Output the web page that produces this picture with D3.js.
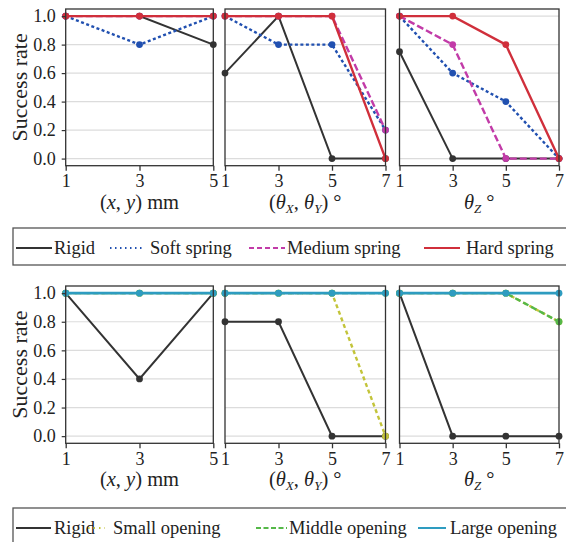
<!DOCTYPE html>
<html>
<head>
<meta charset="utf-8">
<script src="https://cdn.jsdelivr.net/npm/d3@7"></script>
<style>
  body { margin: 0; background: #fff; }
</style>
</head>
<body>
<div id="vis"></div>
<script>
// x positions of each panel
const xsPos = [1, 3, 5];
const xsAngle = [1, 3, 5, 7];
const yTicks = [0, 0.2, 0.4, 0.6, 0.8, 1.0];

// top row: spring stiffness (Rigid, Soft, Medium, Hard)
const springNames = ["Rigid", "Soft spring", "Medium spring", "Hard spring"];
const springPos  = [[1, 1, 0.8], [1, 0.8, 1], [1, 1, 1], [1, 1, 1]];
const springTilt = [[0.6, 1, 0, 0], [1, 0.8, 0.8, 0.2], [1, 1, 1, 0.2], [1, 1, 1, 0]];
const springYaw  = [[0.75, 0, 0, 0], [1, 0.6, 0.4, 0], [1, 0.8, 0, 0], [1, 1, 0.8, 0]];

// bottom row: opening size (Rigid, Small, Middle, Large)
const openNames = ["Rigid", "Small opening", "Middle opening", "Large opening"];
const openPos  = [[1, 0.4, 1], [1, 1, 1], [1, 1, 1], [1, 1, 1]];
const openTilt = [[0.8, 0.8, 0, 0], [1, 1, 1, 0], [1, 1, 1, 1], [1, 1, 1, 1]];
const openYaw  = [[1, 0, 0, 0], [1, 1, 1, 0.8], [1, 1, 1, 0.8], [1, 1, 1, 1]];

const springStyle = [
  {color: "#333333", dash: null, lw: 2, legDash: null},
  {color: "#2150b0", dash: "3,2.5", lw: 2.4, legDash: "1.5,3.5"},
  {color: "#c23ba8", dash: "7,3", lw: 2.4, legDash: "5,3"},
  {color: "#d02f3b", dash: null, lw: 2.4, legDash: null}
];
const openStyle = [
  {color: "#333333", dash: null, lw: 2, legDash: null},
  {color: "#c3c43a", dash: "4,3", lw: 2.4, legDash: "1.5,4"},
  {color: "#55b848", dash: "6,3", lw: 2.4, legDash: "5,2.5"},
  {color: "#2e9cc0", dash: null, lw: 2.6, legDash: null}
];

const FONT = "'Liberation Serif', 'Times New Roman', serif";

const width = 566, height = 542;
const svg = d3.select("#vis").append("svg")
  .attr("width", width).attr("height", height)
  .attr("viewBox", [0, 0, width, height]);

const panelsX = [[65.7, 213.3], [225, 385.5], [399.5, 559]];

function drawPanel(g, xs, series, styles, x0, x1, top, bottom, first, title){
  const x = d3.scaleLinear().domain([1, d3.max(xs)]).range([x0, x1]);
  const y = d3.scaleLinear().domain([-0.05, 1.05]).range([bottom, top]);

  // grid
  g.selectAll(".grid").data(yTicks).join("line")
    .attr("x1", x0).attr("x2", x1)
    .attr("y1", d => y(d)).attr("y2", d => y(d))
    .attr("stroke", "#dcdcdc").attr("stroke-width", 1.2);

  const line = d3.line().x((d, i) => x(xs[i])).y(d => y(d));
  series.forEach((vals, k) => {
    const s = styles[k];
    g.append("path").datum(vals)
      .attr("d", line)
      .attr("fill", "none")
      .attr("stroke", s.color)
      .attr("stroke-width", s.lw)
      .attr("stroke-dasharray", s.dash);
    g.selectAll(null).data(vals).join("circle")
      .attr("cx", (d, i) => x(xs[i])).attr("cy", d => y(d))
      .attr("r", 3.4).attr("fill", s.color);
  });

  // frame
  g.append("rect").attr("x", x0).attr("y", top)
    .attr("width", x1 - x0).attr("height", bottom - top)
    .attr("fill", "none").attr("stroke", "#333").attr("stroke-width", 1.3);

  const xAxis = g.append("g").attr("transform", `translate(0,${bottom})`)
    .call(d3.axisBottom(x).tickValues(xs).tickSize(5).tickPadding(4).tickFormat(d3.format("d")));
  xAxis.select(".domain").remove();
  xAxis.selectAll("line").attr("stroke", "#333").attr("stroke-width", 1.3);
  xAxis.selectAll("text").style("font-family", FONT).style("font-size", "18px").attr("fill", "#222");

  if (first){
    const yAxis = g.append("g").attr("transform", `translate(${x0},0)`)
      .call(d3.axisLeft(y).tickValues(yTicks).tickSize(4).tickPadding(6).tickFormat(d3.format(".1f")));
    yAxis.select(".domain").remove();
    yAxis.selectAll("line").attr("stroke", "#333").attr("stroke-width", 1.2);
    yAxis.selectAll("text").style("font-family", FONT).style("font-size", "18px").attr("fill", "#222");
    g.append("text")
      .attr("transform", `translate(27,${(top + bottom) / 2}) rotate(-90)`)
      .attr("text-anchor", "middle")
      .style("font-family", FONT)
      .style("font-size", "22px")
      .attr("fill", "#222")
      .text("Success rate");
  }

  const t = g.append("text")
    .attr("x", (x0 + x1) / 2).attr("y", bottom + 43)
    .attr("text-anchor", "middle")
    .style("font-family", FONT)
    .attr("fill", "#222")
    .style("font-size", "20.5px");
  title(t);
}

const titles = [
  t => {
    t.append("tspan").text("(");
    t.append("tspan").style("font-style", "italic").text("x");
    t.append("tspan").text(", ");
    t.append("tspan").style("font-style", "italic").text("y");
    t.append("tspan").text(") mm");
  },
  t => {
    t.append("tspan").text("(");
    t.append("tspan").style("font-style", "italic").text("θ");
    t.append("tspan").style("font-style", "italic").style("font-size", "13px").attr("dy", 4).text("X");
    t.append("tspan").attr("dy", -4).text(", ");
    t.append("tspan").style("font-style", "italic").text("θ");
    t.append("tspan").style("font-style", "italic").style("font-size", "13px").attr("dy", 4).text("Y");
    t.append("tspan").attr("dy", -4).text(") °");
  },
  t => {
    t.append("tspan").style("font-style", "italic").text("θ");
    t.append("tspan").style("font-style", "italic").style("font-size", "13px").attr("dy", 4).text("Z");
    t.append("tspan").attr("dy", -4).text(" °");
  }
];

function drawRow(top, bottom, data, styles){
  data.forEach((series, p) => {
    const xs = p === 0 ? xsPos : xsAngle;
    drawPanel(svg.append("g"), xs, series, styles, panelsX[p][0], panelsX[p][1], top, bottom, p === 0, titles[p]);
  });
}

drawRow(9, 165.7, [springPos, springTilt, springYaw], springStyle);
drawRow(286, 443.3, [openPos, openTilt, openYaw], openStyle);

// legend items: [sample start, sample end, text x]
function drawLegend(top, bottom, names, styles, slots){
  const g = svg.append("g");
  g.append("rect").attr("x", 13).attr("y", top).attr("width", 560).attr("height", bottom - top)
    .attr("fill", "none").attr("stroke", "#555").attr("stroke-width", 1.3);
  const cy = top + 20;
  names.forEach((n, i) => {
    const s = styles[i];
    const [a, b, tx] = slots[i];
    g.append("line")
      .attr("x1", a).attr("x2", b)
      .attr("y1", cy).attr("y2", cy)
      .attr("stroke", s.color).attr("stroke-width", 2)
      .attr("stroke-dasharray", s.legDash);
    g.append("text").attr("x", tx).attr("y", cy + 6)
      .style("font-family", FONT).attr("fill", "#222")
      .style("font-size", "18.5px").text(n);
  });
}

drawLegend(228, 265, springNames, springStyle,
  [[16, 52, 54], [110, 144, 150], [249, 285, 287], [424, 460, 466]]);
drawLegend(508, 548, openNames, openStyle,
  [[16, 51, 54], [88, 105, 113], [256, 287, 289], [418, 446, 450]]);
</script>
</body>
</html>
